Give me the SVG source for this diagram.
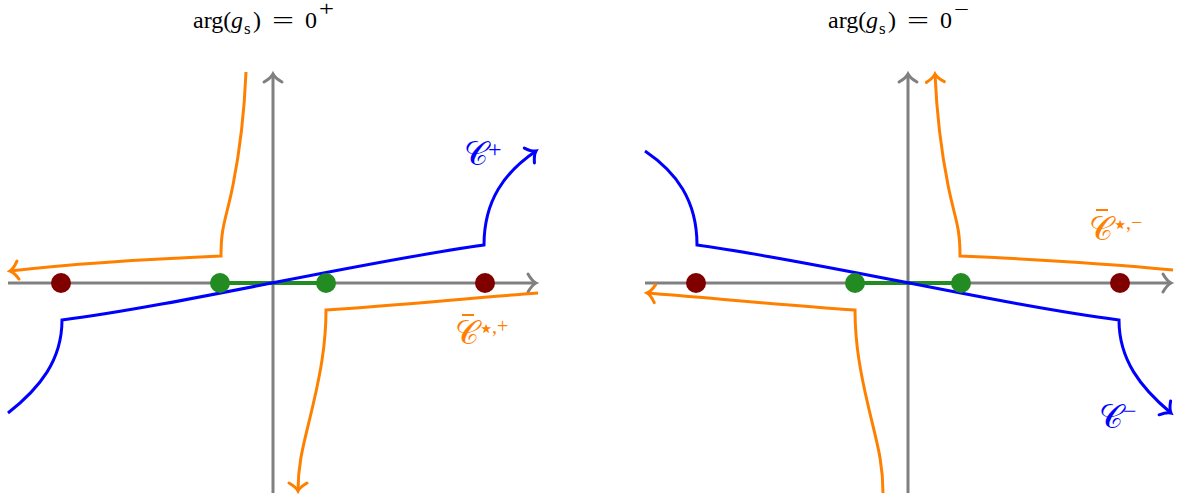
<svg xmlns="http://www.w3.org/2000/svg" width="1181" height="498" viewBox="0 0 1181 498">
<style>
.ax{stroke:#808080;stroke-width:3;fill:none}
.bl{stroke:#0000ff;stroke-width:3;fill:none;stroke-linejoin:miter}
.or{stroke:#ff8000;stroke-width:3;fill:none;stroke-linejoin:miter}
.gr{stroke:#228b22;stroke-width:4;fill:none}
.red{fill:#800000}
.grn{fill:#228b22}
.t{font-family:"Liberation Serif","DejaVu Serif",serif;font-size:24px;fill:#000}
.lb{font-family:"Liberation Serif","DejaVu Serif",serif;font-size:33px}
.ls{font-family:"Liberation Serif","DejaVu Serif",serif;font-size:20px}
.lp{font-family:"Liberation Serif","DejaVu Serif",serif;font-size:24px}
.sp{font-family:"DejaVu Sans","Liberation Sans",sans-serif;font-size:26px}
.bar{stroke-width:2}
</style>
<defs>
<marker id="ag" markerUnits="userSpaceOnUse" viewBox="-12 -12 24 24" markerWidth="24" markerHeight="24" refX="0" refY="0" orient="auto"><path d="M-8,-9 Q-4,-2 0,0 Q-4,2 -8,9" stroke="#808080" stroke-width="3" fill="none" stroke-linecap="round"/></marker>
<marker id="ab" markerUnits="userSpaceOnUse" viewBox="-12 -12 24 24" markerWidth="24" markerHeight="24" refX="0" refY="0" orient="auto"><path d="M-8,-9 Q-4,-2 0,0 Q-4,2 -8,9" stroke="#0000ff" stroke-width="3" fill="none" stroke-linecap="round"/></marker>
<marker id="ao" markerUnits="userSpaceOnUse" viewBox="-12 -12 24 24" markerWidth="24" markerHeight="24" refX="0" refY="0" orient="auto"><path d="M-8,-9 Q-4,-2 0,0 Q-4,2 -8,9" stroke="#ff8000" stroke-width="3" fill="none" stroke-linecap="round"/></marker>
</defs>
<g id="title-left" class="t">
<text x="193" y="28">arg(</text>
<text x="231" y="28" font-style="italic">g</text>
<text x="244" y="34" font-size="17">s</text>
<text x="253" y="28">)</text>
<text x="272" y="28" textLength="22" lengthAdjust="spacingAndGlyphs">=</text>
<text x="305" y="28">0</text>
<text x="319" y="16" font-size="20" textLength="15" lengthAdjust="spacingAndGlyphs">+</text>
</g>
<g id="title-right" class="t">
<text x="828" y="28">arg(</text>
<text x="866" y="28" font-style="italic">g</text>
<text x="879" y="34" font-size="17">s</text>
<text x="888" y="28">)</text>
<text x="907" y="28" textLength="22" lengthAdjust="spacingAndGlyphs">=</text>
<text x="940" y="28">0</text>
<text x="954" y="16" font-size="20" textLength="15" lengthAdjust="spacingAndGlyphs">−</text>
</g>
<g id="axes-left">
<path class="ax" d="M8,283 L536,283" marker-end="url(#ag)"/>
<path class="ax" d="M273,493 L273,74" marker-end="url(#ag)"/>
</g>
<g id="axes-right">
<path class="ax" d="M645,283 L1171,283" marker-end="url(#ag)"/>
<path class="ax" d="M908,493 L908,74" marker-end="url(#ag)"/>
</g>
<g id="connectors">
<path class="gr" d="M220,283 L326,283"/>
<path class="gr" d="M855,283 L961,283"/>
<path class="or" d="M246,72 C244,120 240,150 233,185 C226,220 221,225 221,256 C150,259 80,263 10,271" marker-end="url(#ao)"/>
<path class="or" d="M538,293 C470,298 400,305 326,310 C326,345 320,375 313,405 C305,440 298,460 298,491" marker-end="url(#ao)"/>
<path class="bl" d="M8,413 C40,388 62,360 62,320 C180,305 360,262 484,245 C484,200 505,172 536,151" marker-end="url(#ab)"/>
<path class="or" d="M1173,270 C1101,263 1031,259 960,256 C960,225 955,220 948,185 C941,150 937,120 935,74" marker-end="url(#ao)"/>
<path class="or" d="M883,493 C883,460 876,440 868,405 C861,375 855,345 855,310 C781,305 711,298 647,293" marker-end="url(#ao)"/>
<path class="bl" d="M645,151 C676,172 697,200 697,245 C821,262 1001,305 1119,320 C1119,360 1141,388 1171,413" marker-end="url(#ab)"/>
</g>
<g id="node-red-l1"><circle class="red" cx="61" cy="283" r="10"/></g>
<g id="node-green-l1"><circle class="grn" cx="220" cy="283" r="10"/></g>
<g id="node-green-l2"><circle class="grn" cx="326" cy="283" r="10"/></g>
<g id="node-red-l2"><circle class="red" cx="485" cy="283" r="10"/></g>
<g id="node-red-r1"><circle class="red" cx="696" cy="283" r="10"/></g>
<g id="node-green-r1"><circle class="grn" cx="855" cy="283" r="10"/></g>
<g id="node-green-r2"><circle class="grn" cx="961" cy="283" r="10"/></g>
<g id="node-red-r2"><circle class="red" cx="1120" cy="283" r="10"/></g>
<g id="label-cplus" fill="#0000ff">
<text class="lb" x="464" y="165">𝒞</text>
<text class="lp" x="488" y="157">+</text>
</g>
<g id="label-cstar-plus" fill="#ff8000">
<line class="bar" x1="462" y1="315" x2="474" y2="315" stroke="#ff8000"/>
<text class="lb" x="455" y="344">𝒞</text>
<text class="sp" x="478" y="337">⋆</text>
<text class="ls" x="492" y="333">,+</text>
</g>
<g id="label-cstar-minus" fill="#ff8000">
<line class="bar" x1="1096" y1="210" x2="1108" y2="210" stroke="#ff8000"/>
<text class="lb" x="1089" y="240">𝒞</text>
<text class="sp" x="1112" y="233">⋆</text>
<text class="ls" x="1126" y="229">,−</text>
</g>
<g id="label-cminus" fill="#0000ff">
<text class="lb" x="1099" y="428">𝒞</text>
<text class="lp" x="1123" y="419">−</text>
</g>
</svg>
